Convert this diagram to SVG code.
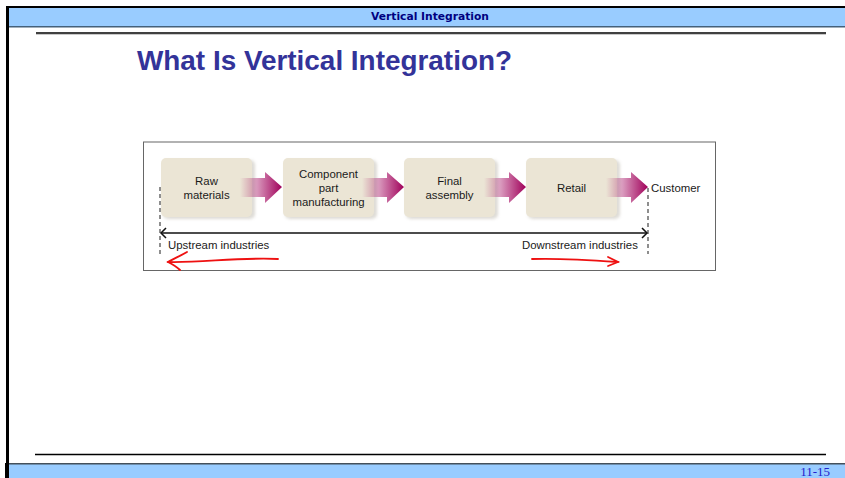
<svg xmlns="http://www.w3.org/2000/svg" width="845" height="478" viewBox="0 0 845 478">
<defs>
<style>
.node{fill:#ebe5d5;}
.shadow{fill:#c8c4bb;opacity:0.6;}
.lbl{font-family:"Liberation Sans",Arial,sans-serif;font-size:11.4px;fill:#1a1a1a;text-anchor:middle;}
.side{font-family:"Liberation Sans",Arial,sans-serif;font-size:11.4px;fill:#1a1a1a;}
.dash{stroke:#444;stroke-width:1.2;stroke-dasharray:4,3;fill:none;}
.red{stroke:#ee1111;stroke-width:1.8;fill:none;stroke-linecap:round;}
</style>
<linearGradient id="ag" x1="0" y1="0" x2="1" y2="0">
<stop offset="0" stop-color="#a0005a" stop-opacity="0"/>
<stop offset="0.6" stop-color="#a0005a" stop-opacity="0.6"/>
<stop offset="1" stop-color="#a0005a"/>
</linearGradient>
<filter id="sh" x="-10%" y="-10%" width="130%" height="130%">
<feGaussianBlur stdDeviation="1.5"/>
</filter>
<g id="arr">
<path d="M-13,-9 L12,-9 L12,-15 L29,0 L12,16 L12,10 L-13,10 Z" fill="url(#ag)"/>
</g>
</defs>
<rect width="845" height="478" fill="#ffffff"/>
<!-- header -->
<rect x="6" y="6" width="839" height="2.5" fill="#000"/>
<rect x="6" y="8" width="839" height="18" fill="#99ccff"/>
<rect x="6" y="26" width="839" height="1.5" fill="#44607a"/>
<text x="430" y="20" font-family="'Comic Sans MS','DejaVu Sans',sans-serif" font-weight="bold" font-size="11" fill="#000080" text-anchor="middle" textLength="118" lengthAdjust="spacingAndGlyphs">Vertical Integration</text>
<rect x="6" y="6" width="3" height="472" fill="#000"/>
<line x1="36" y1="33" x2="826" y2="33" stroke="#000" stroke-width="1.5"/>
<line x1="36" y1="34.5" x2="826" y2="34.5" stroke="#bbb" stroke-width="0.8"/>
<!-- title -->
<text x="137" y="70" font-family="'Liberation Sans',Arial,sans-serif" font-weight="bold" font-size="27" fill="#333399" textLength="375" lengthAdjust="spacingAndGlyphs">What Is Vertical Integration?</text>
<!-- frame -->
<rect x="143.5" y="142" width="572" height="128.5" fill="#fff" stroke="#666" stroke-width="1"/>
<!-- nodes -->
<g id="node-raw">
<rect x="163" y="160" width="92" height="59" rx="5" class="shadow" filter="url(#sh)"/>
<rect x="161" y="158" width="91" height="59" rx="5" class="node"/>
<text class="lbl" x="206.5" y="185">Raw</text>
<text class="lbl" x="206.5" y="199">materials</text>
</g>
<g id="node-component">
<rect x="285" y="160" width="92" height="59" rx="5" class="shadow" filter="url(#sh)"/>
<rect x="283" y="158" width="91" height="59" rx="5" class="node"/>
<text class="lbl" x="328.5" y="178">Component</text>
<text class="lbl" x="328.5" y="192">part</text>
<text class="lbl" x="328.5" y="206">manufacturing</text>
</g>
<g id="node-final">
<rect x="406" y="160" width="92" height="59" rx="5" class="shadow" filter="url(#sh)"/>
<rect x="404" y="158" width="91" height="59" rx="5" class="node"/>
<text class="lbl" x="449.5" y="185">Final</text>
<text class="lbl" x="449.5" y="199">assembly</text>
</g>
<g id="node-retail">
<rect x="528" y="160" width="92" height="59" rx="5" class="shadow" filter="url(#sh)"/>
<rect x="526" y="158" width="91" height="59" rx="5" class="node"/>
<text class="lbl" x="571.5" y="192">Retail</text>
</g>
<g id="node-customer">
<text class="side" x="651" y="192">Customer</text>
</g>
<!-- connectors -->
<g id="connectors">
<use href="#arr" x="253" y="187"/>
<use href="#arr" x="375" y="187"/>
<use href="#arr" x="497" y="187"/>
<use href="#arr" x="619" y="187"/>
<line class="dash" x1="160" y1="187" x2="160" y2="254"/>
<line class="dash" x1="648" y1="188" x2="648" y2="254"/>
<line x1="161" y1="233" x2="647" y2="233" stroke="#111" stroke-width="1.3"/>
<polyline points="166,228 161,233 166,238" fill="none" stroke="#111" stroke-width="1.5"/>
<polyline points="642,228 647,233 642,238" fill="none" stroke="#111" stroke-width="1.5"/>
<path class="red" d="M278,259 C240,257 200,263 168,262"/>
<path class="red" d="M187,252 C180,256 173,259 168,262 C172,264 177,267 180,270"/>
<path class="red" d="M532,259 C560,258 590,260 618,262"/>
<path class="red" d="M608,257 L618,262 L608,266"/>
</g>
<text class="side" x="168" y="249">Upstream industries</text>
<text class="side" x="522" y="249">Downstream industries</text>
<!-- footer -->
<line x1="35" y1="454.5" x2="826" y2="454.5" stroke="#000" stroke-width="1.5"/>
<rect x="6" y="463" width="839" height="15" fill="#99ccff"/>
<rect x="6" y="463" width="839" height="1.5" fill="#44505a"/>
<rect x="5" y="463" width="4" height="15" fill="#000"/>
<text x="830" y="476" font-family="'Liberation Serif','Times New Roman',serif" font-size="13" fill="#2222cc" text-anchor="end">11-15</text>
</svg>
